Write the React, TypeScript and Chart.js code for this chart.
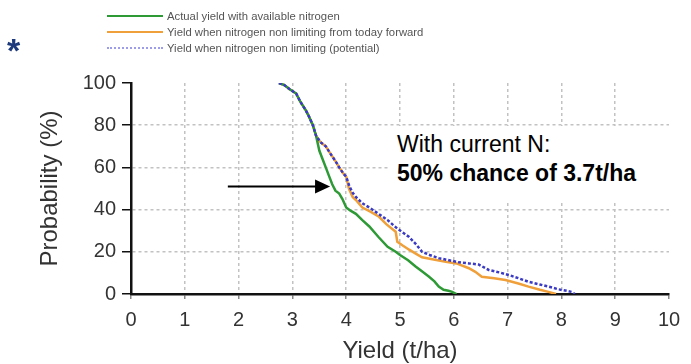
import React, { useEffect, useRef } from "react";
import { Chart, registerables } from "chart.js";

Chart.register(...registerables);

const FONT = "'Liberation Sans', Arial, Helvetica, sans-serif";

// Actual yield with available nitrogen
const actualX = [2.75, 2.85, 2.95, 3.07, 3.15, 3.25, 3.31, 3.38, 3.44, 3.5, 3.56, 3.62, 3.68, 3.74, 3.8, 3.87, 3.93, 4.0, 4.08, 4.18, 4.3, 4.43, 4.6, 4.77, 4.92, 5.0, 5.15, 5.29, 5.42, 5.54, 5.64, 5.72, 5.81, 5.9, 5.97, 6.05];
const actualY = [100, 99, 97, 95, 91, 87, 84, 80, 75, 68, 64, 60, 56, 52, 49, 47.6, 45, 41, 39.5, 38, 35, 32, 27, 22.4, 20, 18.5, 16, 13, 10.5, 8.2, 6, 3.5, 2, 1.5, 1, 0];

// Yield when nitrogen non limiting from today forward
const forwardX = [2.75, 2.85, 2.95, 3.07, 3.15, 3.25, 3.31, 3.38, 3.44, 3.52, 3.62, 3.72, 3.8, 3.87, 3.95, 4.0, 4.05, 4.12, 4.2, 4.3, 4.45, 4.61, 4.75, 4.92, 4.95, 5.05, 5.17, 5.3, 5.41, 5.6, 5.85, 6.05, 6.28, 6.4, 6.52, 6.75, 6.96, 7.2, 7.39, 7.6, 7.76, 7.9];
const forwardY = [100, 99, 97, 95, 91, 87, 84, 80, 75, 72, 70, 66, 63, 60, 57, 55.6, 50, 46, 44, 41, 39, 36.6, 33, 29.5, 24.8, 23, 21, 19, 17.4, 16.5, 15.3, 14.5, 12.2, 10.5, 8.2, 7.5, 6.6, 5, 3.5, 2, 1, 0];

// Yield when nitrogen non limiting (potential)
const potentialX = [2.75, 2.85, 2.95, 3.07, 3.15, 3.25, 3.31, 3.38, 3.44, 3.52, 3.62, 3.72, 3.8, 3.87, 3.95, 4.0, 4.06, 4.12, 4.18, 4.3, 4.43, 4.6, 4.77, 4.95, 5.17, 5.3, 5.41, 5.55, 5.72, 5.91, 6.1, 6.28, 6.46, 6.65, 6.85, 7.02, 7.2, 7.39, 7.6, 7.76, 7.95, 8.1, 8.19, 8.25];
const potentialY = [100, 99, 97, 95, 91, 87, 84, 80, 75, 72, 70, 66, 63, 60, 57, 55.6, 51, 48, 46, 43, 41, 38, 35, 31, 27, 23.5, 20, 18.5, 17, 16, 15, 14.5, 14, 11.4, 10.2, 9, 7.5, 5.8, 4.5, 3.5, 2.2, 1.5, 1, 0];

const legendLabels = [
  "Actual yield with available nitrogen",
  "Yield when nitrogen non limiting from today forward",
  "Yield when nitrogen non limiting (potential)",
];

const annotationLine1 = "With current N:";
const annotationLine2 = "50% chance of 3.7t/ha";
const arrowFrom = { x: 1.8, y: 51 };
const arrowTo = { x: 3.7, y: 51 };

const xTitle = "Yield (t/ha)";
const yTitle = "Probability (%)";

const toPoints = (xs: number[], ys: number[]) => xs.map((x, i) => ({ x, y: ys[i] }));

const arrowPlugin = {
  id: "arrowPlugin",
  afterDatasetsDraw(chart: any) {
    const { ctx, scales } = chart;
    const x1 = scales.x.getPixelForValue(arrowFrom.x);
    const x2 = scales.x.getPixelForValue(arrowTo.x);
    const y = scales.y.getPixelForValue(arrowTo.y);
    ctx.save();
    ctx.strokeStyle = "#000";
    ctx.fillStyle = "#000";
    ctx.lineWidth = 2;
    ctx.beginPath();
    ctx.moveTo(x1, y);
    ctx.lineTo(x2 - 12, y);
    ctx.stroke();
    ctx.beginPath();
    ctx.moveTo(x2, y);
    ctx.lineTo(x2 - 15, y - 7);
    ctx.lineTo(x2 - 15, y + 7);
    ctx.closePath();
    ctx.fill();
    ctx.restore();
  },
};

export default function App() {
  const ref = useRef<HTMLCanvasElement>(null);

  useEffect(() => {
    if (!ref.current) return;
    const gridColor = (c: any) =>
      c.tick && (c.tick.value === 0 || c.tick.value === 10 || c.tick.value === 100) ? "rgba(0,0,0,0)" : "#c2c2c2";
    const chart = new Chart(ref.current, {
      type: "scatter",
      data: {
        datasets: [
          {
            label: legendLabels[2],
            data: toPoints(potentialX, potentialY),
            showLine: true,
            borderColor: "#3a3ac4",
            borderWidth: 2.5,
            borderDash: [3, 2],
            pointRadius: 0,
            order: 0,
          },
          {
            label: legendLabels[0],
            data: toPoints(actualX, actualY),
            showLine: true,
            borderColor: "#2e9a36",
            borderWidth: 2.5,
            pointRadius: 0,
            order: 1,
          },
          {
            label: legendLabels[1],
            data: toPoints(forwardX, forwardY),
            showLine: true,
            borderColor: "#f0a03a",
            borderWidth: 2.5,
            pointRadius: 0,
            order: 2,
          },
        ],
      },
      options: {
        animation: false,
        responsive: false,
        maintainAspectRatio: false,
        layout: { padding: { left: 0, right: 22, top: 83, bottom: 0 } },
        plugins: { legend: { display: false }, tooltip: { enabled: false } },
        scales: {
          x: {
            type: "linear",
            min: 0,
            max: 10,
            afterFit: (s: any) => {
              s.height = 70;
            },
            ticks: {
              stepSize: 1,
              padding: 9,
              color: "#333",
              font: { family: FONT, size: 20 },
            },
            grid: {
              color: gridColor,
              lineWidth: 1.5,
              tickLength: 5,
              tickColor: "#888",
              tickWidth: 1.5,
              tickBorderDash: [],
            },
            border: { color: "#111", width: 2.5, dash: [3, 3] },
            title: {
              display: true,
              text: xTitle,
              color: "#333",
              font: { family: FONT, size: 24, lineHeight: 1 },
              padding: { top: 0, bottom: 1 },
            },
          },
          y: {
            min: 0,
            max: 100,
            afterFit: (s: any) => {
              s.width = 131;
            },
            ticks: {
              stepSize: 20,
              padding: 6,
              color: "#333",
              font: { family: FONT, size: 20 },
            },
            grid: {
              color: gridColor,
              lineWidth: 1.5,
              tickLength: 9,
              tickColor: "#111",
              tickWidth: 1.5,
              tickBorderDash: [],
            },
            border: { color: "#111", width: 2.5, dash: [3, 3] },
            title: {
              display: true,
              text: yTitle,
              color: "#333",
              font: { family: FONT, size: 24, lineHeight: 1 },
              padding: { top: 38, bottom: 0 },
            },
          },
        },
      },
      plugins: [arrowPlugin],
    } as any);
    return () => chart.destroy();
  }, []);

  const legendRow = (i: number, line: React.CSSProperties, top: number) => (
    <div key={i} style={{ position: "absolute", left: 107, top, height: 14, display: "flex", alignItems: "center" }}>
      <div style={{ width: 56, height: 0, ...line }} />
      <span style={{ marginLeft: 4, fontFamily: FONT, fontSize: 11.3, color: "#555", whiteSpace: "nowrap" }}>{legendLabels[i]}</span>
    </div>
  );

  return (
    <div style={{ position: "absolute", left: 0, top: 0, width: 691, height: 364, background: "#fff", overflow: "hidden" }}>
      <canvas ref={ref} width={691} height={364} style={{ position: "absolute", left: 0, top: 0 }} />
      {legendRow(0, { borderTop: "2px solid #2e9a36" }, 9)}
      {legendRow(1, { borderTop: "2px solid #f0a03a" }, 25)}
      {legendRow(2, { borderTop: "2px dotted #9c9ce8" }, 41)}
      <div style={{ position: "absolute", left: 7, top: 33, fontFamily: FONT, fontWeight: "bold", fontSize: 34, color: "#1d3b7c", lineHeight: "34px" }}>*</div>
      <div
        style={{
          position: "absolute",
          left: 388,
          top: 126,
          width: 289,
          height: 76,
          background: "#fff",
          fontFamily: FONT,
          fontSize: 23,
          lineHeight: "29px",
          color: "#000",
          paddingLeft: 9,
          paddingTop: 4,
          boxSizing: "border-box",
          whiteSpace: "nowrap",
        }}
      >
        <div>{annotationLine1}</div>
        <div style={{ fontWeight: "bold" }}>{annotationLine2}</div>
      </div>
    </div>
  );
}
